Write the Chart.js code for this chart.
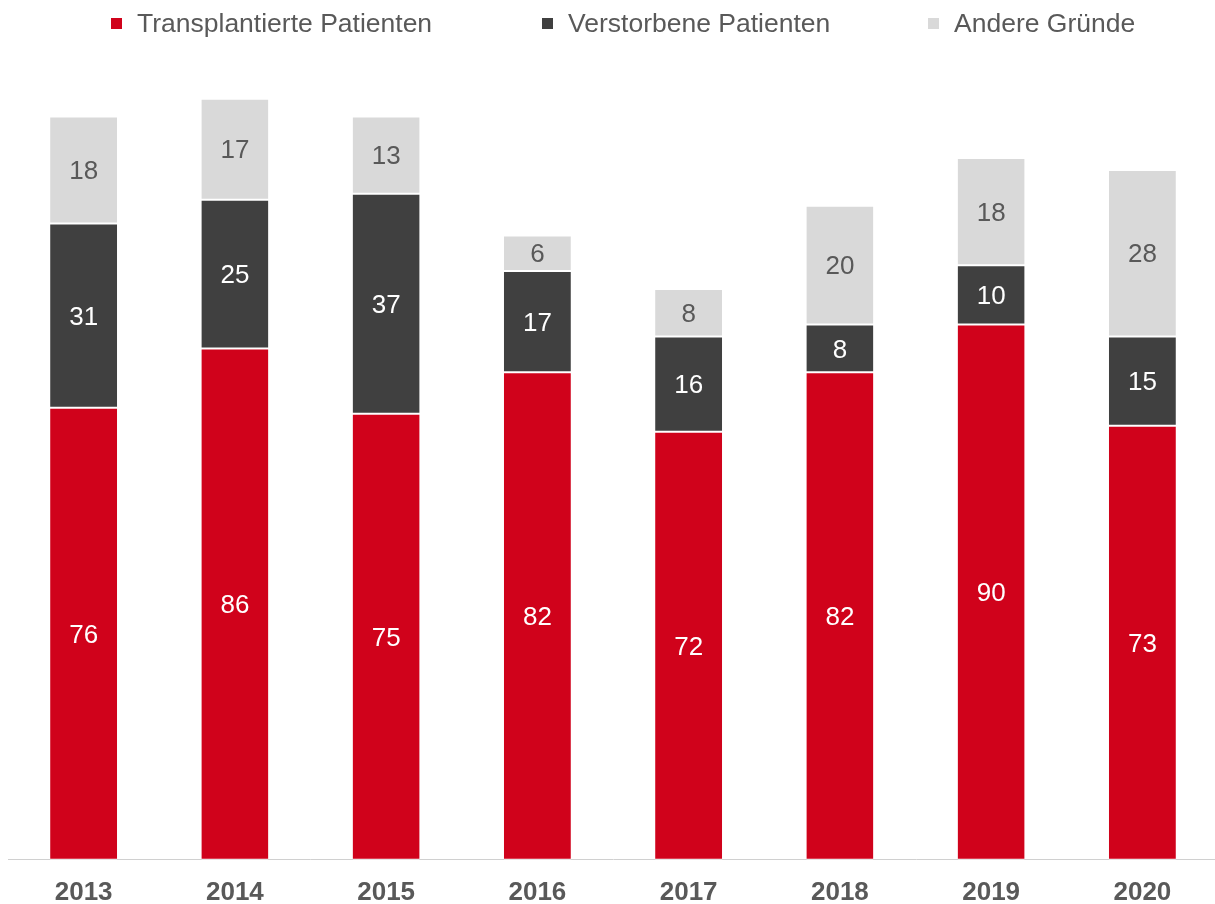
<!DOCTYPE html>
<html>
<head>
<meta charset="utf-8">
<script src="https://cdn.jsdelivr.net/npm/chart.js@4"></script>
<style>
    html, body { margin: 0; padding: 0; background: #fff; overflow: hidden; }
    #wrap { position: relative; width: 1218px; height: 904px; overflow: hidden; }
    .legend-item {
        position: absolute; top: 8px; height: 30px;
        display: flex; align-items: center;
        font-family: "Liberation Sans", Arial, sans-serif;
        font-size: 26.5px; color: #595959; white-space: nowrap;
    }
    .legend-item .box { width: 11px; height: 11px; margin-right: 15px; }
</style>
</head>
<body>
<div id="wrap">
    <div id="legend"></div>
    <canvas id="chart" width="1218" height="917"></canvas>
</div>
<script>
const years = ["2013", "2014", "2015", "2016", "2017", "2018", "2019", "2020"];
const transplanted = [76, 86, 75, 82, 72, 82, 90, 73];
const deceased = [31, 25, 37, 17, 16, 8, 10, 15];
const otherReasons = [18, 17, 13, 6, 8, 20, 18, 28];

const seriesNames = ["Transplantierte Patienten", "Verstorbene Patienten", "Andere Gründe"];
const seriesColors = ["#d0021b", "#404040", "#d9d9d9"];
const labelColors = ["#ffffff", "#ffffff", "#595959"];
const legendLeft = [111, 542, 928];

/* ================= LEGEND ================= */

const legendEl = document.getElementById("legend");
seriesNames.forEach((name, i) => {
    const item = document.createElement("div");
    item.className = "legend-item";
    item.style.left = legendLeft[i] + "px";
    item.innerHTML = `<span class="box" style="background:${seriesColors[i]}"></span>${name}`;
    legendEl.appendChild(item);
});

/* ================= VALUE LABELS ================= */

const valueLabels = {
    id: "valueLabels",
    afterDatasetsDraw(chart) {
        const ctx = chart.ctx;
        ctx.save();
        ctx.font = '26px "Liberation Sans", Arial, sans-serif';
        ctx.textAlign = "center";
        ctx.textBaseline = "middle";
        chart.data.datasets.forEach((ds, i) => {
            const meta = chart.getDatasetMeta(i);
            ctx.fillStyle = labelColors[i];
            meta.data.forEach((bar, j) => {
                // nudge down a bit so digits sit visually centred
                const y = (bar.y + bar.base) / 2 + 2;
                ctx.fillText(ds.data[j], bar.x, y);
            });
        });
        ctx.restore();
    }
};

/* ================= CHART ================= */

const makeSet = (label, data, i) => ({
    label,
    data,
    backgroundColor: seriesColors[i],
    borderColor: "#ffffff",
    borderWidth: { top: 1, bottom: 1, left: 0, right: 0 },
    borderSkipped: false,
    categoryPercentage: 1,
    barPercentage: 0.443
});

new Chart(document.getElementById("chart"), {
    type: "bar",
    data: {
        labels: years,
        datasets: [
            makeSet(seriesNames[0], transplanted, 0),
            makeSet(seriesNames[1], deceased, 1),
            makeSet(seriesNames[2], otherReasons, 2)
        ]
    },
    options: {
        responsive: false,
        animation: false,
        layout: { padding: { top: 57, left: 8, right: 0, bottom: 0 } },
        plugins: {
            legend: { display: false },
            tooltip: { enabled: false }
        },
        scales: {
            x: {
                stacked: true,
                grid: { display: false },
                border: { display: true, color: "#d0d0d0", width: 1 },
                ticks: {
                    padding: 9,
                    color: "#595959",
                    font: { family: '"Liberation Sans", Arial, sans-serif', size: 26, weight: "bold" }
                }
            },
            y: {
                stacked: true,
                display: false,
                min: 0,
                max: 135
            }
        }
    },
    plugins: [valueLabels]
});
</script>
</body>
</html>
